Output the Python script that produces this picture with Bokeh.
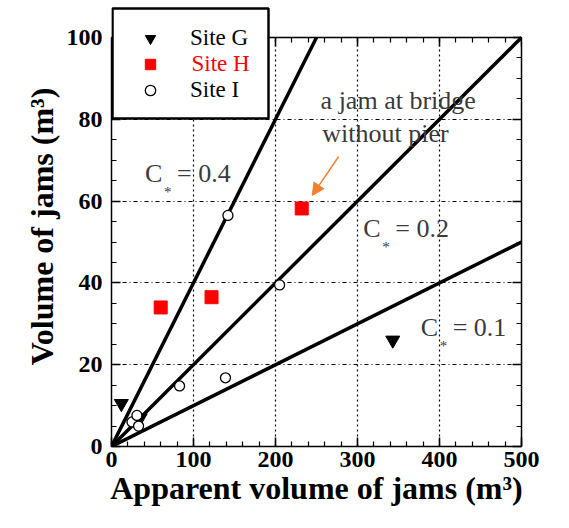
from bokeh.plotting import figure
from bokeh.models import (Range1d, LinearAxis, SingleIntervalTicker, Legend, LegendItem,
                          Label, Arrow, NormalHead, CustomJSTickFormatter, BoxAnnotation)
from bokeh.embed import file_html
from bokeh.resources import INLINE

# ---- data ----
site_g_x = [12, 35, 343]
site_g_y = [10.5, 7, 26]
site_h_x = [60, 122, 232]
site_h_y = [34, 36.5, 58.2]
site_i_x = [25, 31, 33, 83, 139, 142, 205]
site_i_y = [6, 7.6, 5, 14.8, 16.8, 56.5, 39.5]
c_values = [0.4, 0.2, 0.1]
c_labels = ["= 0.4", "= 0.2", "= 0.1"]
legend_labels = ["Site G", "Site H", "Site I"]
x_min, x_max = 0, 500
y_min, y_max = 0, 100
x_ticks_interval = 100
y_ticks_interval = 20

SERIF = "Liberation Serif"
TXT = "#3a3a3a"

# The frame reaches a little above the data box so that the legend can overlap
# the top of the box as in the original; the top axis is pinned to y_max.
PX_PER_X = 410 / (x_max - x_min)
PX_PER_Y = 409 / (y_max - y_min)
EXTRA_TOP_PX = 31
x_range = Range1d(x_min, x_max)
y_range = Range1d(y_min, y_max + EXTRA_TOP_PX / PX_PER_Y)

p = figure(width=553, height=512, x_range=x_range, y_range=y_range,
           output_backend="svg", toolbar_location=None,
           min_border_left=111, min_border_right=32,
           min_border_top=37 - EXTRA_TOP_PX, min_border_bottom=66)
p.background_fill_color = "white"
p.border_fill_color = "white"
p.outline_line_color = None

xt = SingleIntervalTicker(interval=x_ticks_interval, num_minor_ticks=5)
yt = SingleIntervalTicker(interval=y_ticks_interval, num_minor_ticks=4)

def style_axis(ax):
    ax.axis_line_color = "black"
    ax.axis_line_width = 1.5
    ax.major_tick_in = 9
    ax.major_tick_out = 0
    ax.minor_tick_in = 5
    ax.minor_tick_out = 0
    ax.major_tick_line_width = 1.5
    ax.minor_tick_line_width = 1.2
    ax.major_tick_line_color = "black"
    ax.minor_tick_line_color = "black"
    ax.major_label_text_font = SERIF
    ax.major_label_text_font_style = "bold"
    ax.major_label_text_font_size = "24px"
    ax.major_label_text_color = "black"
    ax.axis_label_text_font = SERIF
    ax.axis_label_text_font_style = "bold"
    ax.axis_label_text_font_size = "32px"
    ax.axis_label_text_color = "black"

xa = p.xaxis[0]
ya = p.yaxis[0]
xa.ticker = xt
ya.ticker = yt
style_axis(xa)
style_axis(ya)
xa.bounds = (x_min, x_max)
ya.bounds = (y_min, y_max)
xa.axis_label = "Apparent volume of jams (m³)"
ya.axis_label = "Volume of jams (m³)"
xa.major_label_standoff = 5
ya.major_label_standoff = 9
xa.axis_label_standoff = 0
ya.axis_label_standoff = 4

blank = CustomJSTickFormatter(code="return ''")
top_ax = LinearAxis(ticker=xt, formatter=blank, fixed_location=y_max, bounds=(x_min, x_max))
right_ax = LinearAxis(ticker=yt, formatter=blank, bounds=(y_min, y_max))
style_axis(top_ax)
style_axis(right_ax)
for ax in (top_ax, right_ax):
    ax.major_label_text_font_size = "0px"
    ax.major_label_standoff = 0
p.add_layout(top_ax, "above")
p.add_layout(right_ax, "right")

p.xgrid.ticker = xt
p.ygrid.ticker = yt
p.xgrid.bounds = (x_min, x_max)
p.xgrid.cross_bounds = (y_min, y_max)
p.ygrid.bounds = (y_min, y_max)
p.ygrid.cross_bounds = (x_min, x_max)
p.xgrid.grid_line_color = "black"
p.xgrid.grid_line_dash = "2 3"
p.xgrid.grid_line_width = 1.2
p.ygrid.grid_line_color = "black"
p.ygrid.grid_line_dash = "4 3 1 3"
p.ygrid.grid_line_width = 1.2

# C* lines
for c in c_values:
    x_end = min(x_max, y_max / c)
    p.line([0, x_end], [0, c * x_end], line_color="black", line_width=3.5)

g = p.scatter(site_g_x, site_g_y, marker="inverted_triangle", size=14,
              fill_color="black", line_color="black")
h = p.scatter(site_h_x, site_h_y, marker="square", size=13,
              fill_color="#ff0000", line_color="#ff0000")
i = p.scatter(site_i_x, site_i_y, marker="circle", size=10,
              fill_color="white", line_color="black", line_width=1.3)

# annotations
label_pos = [(41, 66.7), (307, 53.2), (377, 29)]
for (lx, ly), txt in zip(label_pos, c_labels):
    p.add_layout(Label(x=lx, y=ly, text="C", text_font=SERIF, text_font_size="26px",
                       text_color=TXT, text_baseline="middle", text_align="left"))
    p.add_layout(Label(x=lx, y=ly, x_offset=19, y_offset=-18, text="*", text_font=SERIF,
                       text_font_size="15px", text_color=TXT, text_baseline="middle",
                       text_align="left"))
    p.add_layout(Label(x=lx, y=ly, x_offset=32, text=txt, text_font=SERIF,
                       text_font_size="26px", text_color=TXT, text_baseline="middle",
                       text_align="left"))

p.add_layout(Label(x=255, y=84.6, text="a jam at bridge", text_font=SERIF,
                   text_font_size="26px", text_color=TXT, text_baseline="middle"))
p.add_layout(Label(x=257, y=76.5, text="without pier", text_font=SERIF,
                   text_font_size="26px", text_color=TXT, text_baseline="middle"))

p.add_layout(Arrow(x_start=277, y_start=70.9, x_end=244.8, y_end=61.4,
                   line_color="#f08030", line_width=1.5,
                   end=NormalHead(size=12, fill_color="#f08030", line_color="#f08030")))

# legend frame (white box with black border) overlapping the top-left of the data box
LEG_LEFT_PX, LEG_RIGHT_PX, LEG_TOP_PX, LEG_BOTTOM_PX = 1, 157, 438, 328  # from frame bottom-left
p.add_layout(BoxAnnotation(left=LEG_LEFT_PX / PX_PER_X, right=LEG_RIGHT_PX / PX_PER_X,
                           bottom=LEG_BOTTOM_PX / PX_PER_Y, top=LEG_TOP_PX / PX_PER_Y,
                           fill_color="white", fill_alpha=1.0,
                           line_color="black", line_width=2.5, line_alpha=1.0))
# the red legend entry text
p.add_layout(Label(x=(LEG_LEFT_PX + 79) / PX_PER_X, y=(LEG_TOP_PX - 55) / PX_PER_Y,
                   text=legend_labels[1], text_font=SERIF,
                   text_font_size="23px", text_color="#ff0000", text_baseline="middle",
                   text_align="left"))

# transparent legend for the symbols and the black entries
# (offset compensates the shift observed for a border-less legend)
legend = Legend(items=[LegendItem(label=legend_labels[0], renderers=[g]),
                       LegendItem(label=" ", renderers=[h]),
                       LegendItem(label=legend_labels[2], renderers=[i])],
                location=(LEG_LEFT_PX + 14, LEG_BOTTOM_PX + 15), padding=15, glyph_width=48,
                glyph_height=26, label_height=26, label_standoff=16, spacing=0, margin=0,
                label_text_font=SERIF, label_text_font_size="23px", label_text_color="black",
                label_text_baseline="middle",
                border_line_color=None, background_fill_alpha=0.0)
p.add_layout(legend, "center")

open("out.html", "w").write(file_html(p, INLINE))
